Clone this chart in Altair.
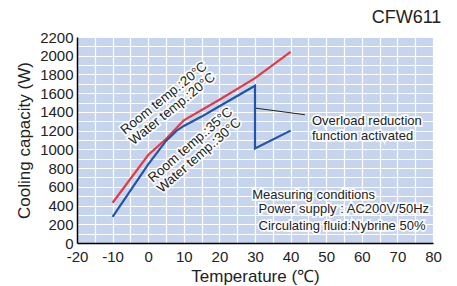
import altair as alt
import pandas as pd

red_x = [-10, 0, 5, 10, 20, 30, 40]
red_y = [430, 940, 1110, 1310, 1530, 1760, 2040]
blue_x = [-10, 0, 5, 8, 10, 15, 20, 30, 30, 40]
blue_y = [280, 840, 1090, 1200, 1250, 1350, 1460, 1680, 1010, 1200]

ann = pd.DataFrame({
    "x": [-6.5, 1.3],
    "y": [1154, 641],
    "a": [321, 319],
    "t": ["Room temp.:20°C\nWater temp.:20°C", "Room temp.:35°C\nWater temp.:30°C"],
})
cond_x = [29.2, 31.0, 31.0]
cond_y = [513, 363, 182]
cond_t = ["Measuring conditions", "Power supply : AC200V/50Hz", "Circulating fluid:Nybrine 50%"]
over = pd.DataFrame({"x": [46.0], "y": [1300], "t": ["Overload reduction\nfunction activated"]})
leader = pd.DataFrame({"x": [30.2], "y": [1440], "x2": [44.0], "y2": [1370]})

FONT = "Liberation Sans"
TXT = "#222222"

red = pd.DataFrame({"x": red_x, "y": red_y, "o": range(len(red_x))})
blue = pd.DataFrame({"x": blue_x, "y": blue_y, "o": range(len(blue_x))})
cond = pd.DataFrame({"x": cond_x, "y": cond_y, "t": cond_t})

xs = alt.Scale(domain=[-20, 80], nice=False)
ys = alt.Scale(domain=[0, 2200], nice=False)

xax = alt.Axis(values=list(range(-20, 81, 5)), labelExpr="datum.value % 10 == 0 ? '' + datum.value : ''",
               title="Temperature (℃)", grid=True, gridColor="white", gridWidth=1.2, ticks=False,
               domainColor="black", domainWidth=1.5, labelFontSize=15, titleFontSize=17,
               labelFont=FONT, titleFont=FONT, labelColor=TXT, titleColor=TXT, titleFontWeight="normal",
               labelPadding=6, titlePadding=4, labelOverlap=False, labelFlush=False)
yax = alt.Axis(values=list(range(0, 2201, 100)), labelExpr="datum.value % 200 == 0 ? '' + datum.value : ''",
               title="Cooling capacity (W)", grid=True, gridColor="white", gridWidth=1.2, ticks=False,
               domainColor="black", domainWidth=1.5, labelFontSize=15, titleFontSize=17,
               labelFont=FONT, titleFont=FONT, labelColor=TXT, titleColor=TXT, titleFontWeight="normal",
               labelPadding=4, titlePadding=6, labelOverlap=False, labelFlush=False)

X = alt.X("x:Q", scale=xs, axis=xax)
Y = alt.Y("y:Q", scale=ys, axis=yax)

red_line = alt.Chart(red).mark_line(color="#e8393f", strokeWidth=2.2).encode(x=X, y=Y, order="o:Q")
blue_line = alt.Chart(blue).mark_line(color="#2255aa", strokeWidth=2.2).encode(x=X, y=Y, order="o:Q")

lead = alt.Chart(leader).mark_rule(color="#222222", strokeWidth=1).encode(x=X, y=Y, x2="x2:Q", y2="y2:Q")


def halo_text(df, size=13, lh=None, baseline="middle", rotate=False):
    kw = dict(align="left", baseline=baseline, font=FONT, fontSize=size, lineBreak="\n")
    if lh:
        kw["lineHeight"] = lh
    enc = dict(x=X, y=Y, text="t:N")
    if rotate:
        enc["angle"] = alt.Angle("a:Q", scale=None)
    h = alt.Chart(df).mark_text(stroke="white", strokeWidth=3.5, strokeOpacity=0.9, fill="white", **kw).encode(**enc)
    f = alt.Chart(df).mark_text(color=TXT, **kw).encode(**enc)
    return h + f


rot = halo_text(ann, size=13.4, lh=13.5, baseline="alphabetic", rotate=True)
cond_txt = halo_text(cond, size=13)
over_txt = halo_text(over, size=13, lh=15)

chart = alt.layer(red_line, blue_line, lead, rot, cond_txt, over_txt).properties(
    width=356, height=206,
    title=alt.TitleParams("CFW611", anchor="end", fontSize=18, font=FONT, color=TXT, fontWeight="normal", offset=3),
    autosize=alt.AutoSizeParams(type="none"),
    padding={"left": 69, "top": 29, "right": 16, "bottom": 45},
).configure_view(fill="#c6d4ee", stroke=None)

chart.save("out.html", embed_options={"renderer": "svg", "actions": False})
